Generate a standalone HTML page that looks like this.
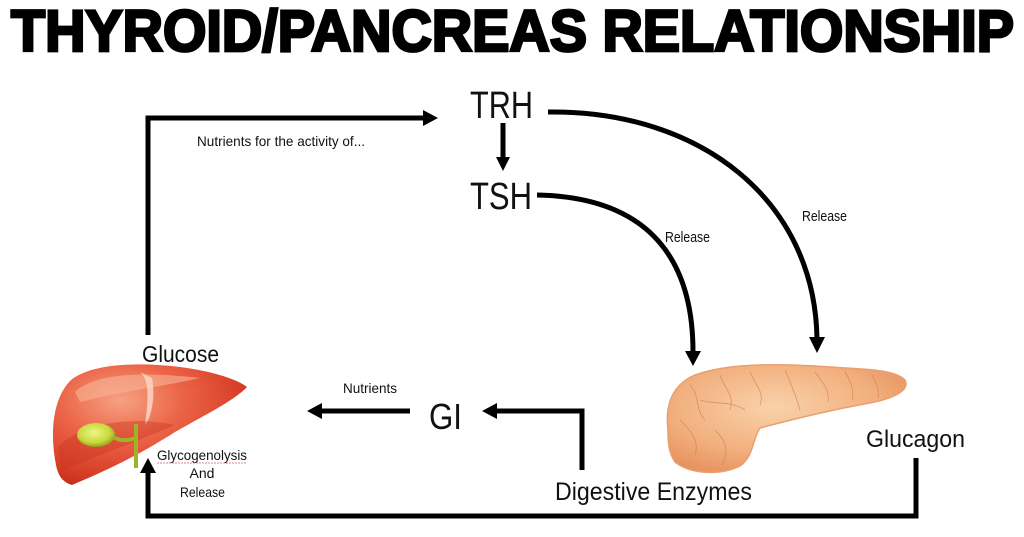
<!DOCTYPE html>
<html><head><meta charset="utf-8"><style>
html,body{margin:0;padding:0;background:#fff;}
svg{display:block;}
text{font-family:"Liberation Sans",sans-serif;fill:#111;}
</style></head><body>
<svg width="1024" height="537" viewBox="0 0 1024 537" xmlns="http://www.w3.org/2000/svg">
<defs>
<radialGradient id="liv" cx="0.35" cy="0.3" r="0.8">
<stop offset="0" stop-color="#f6a283"/>
<stop offset="0.4" stop-color="#ec6447"/>
<stop offset="0.8" stop-color="#d63c25"/>
<stop offset="1" stop-color="#b8281a"/>
</radialGradient>
<radialGradient id="gb" cx="0.45" cy="0.4" r="0.6">
<stop offset="0" stop-color="#eef58a"/>
<stop offset="0.7" stop-color="#c9d83a"/>
<stop offset="1" stop-color="#8fa21c"/>
</radialGradient>
<radialGradient id="pan" cx="0.45" cy="0.4" r="0.7">
<stop offset="0" stop-color="#f9d2ab"/>
<stop offset="0.6" stop-color="#f2b07e"/>
<stop offset="1" stop-color="#e48e5a"/>
</radialGradient>
</defs>

<!-- Title -->
<text x="11" y="51" font-size="58" font-weight="bold" textLength="1003" lengthAdjust="spacingAndGlyphs" stroke="#000" stroke-width="2.8" style="fill:#000">THYROID/PANCREAS RELATIONSHIP</text>

<!-- Connectors -->
<g fill="none" stroke="#000" stroke-width="5">
<polyline points="148,335 148,118 425,118"/>
<line x1="503" y1="123" x2="503" y2="158"/>
<path d="M548,112 C700,110 815,200 817,339"/>
<path d="M537,195 C640,197 693,250 693,352"/>
<polyline points="916,458 916,516 148,516 148,472"/>
<line x1="410" y1="411" x2="320" y2="411"/>
<polyline points="582,470 582,411 495,411"/>
</g>
<g fill="#000">
<polygon points="423,110 438,118 423,126"/>
<polygon points="496,157 510,157 503,171"/>
<polygon points="809,337 825,337 817,353"/>
<polygon points="685,351 701,351 693,366"/>
<polygon points="140,473 156,473 148,458"/>
<polygon points="322,403 322,419 307,411"/>
<polygon points="497,403 497,419 482,411"/>
</g>

<!-- Liver -->
<path d="M56,465 C50,435 52,400 70,381 C90,363 140,362 180,367 C210,371 235,378 247,387 C235,400 205,415 175,432 C150,448 120,465 72,485 C62,482 58,475 56,465 Z" fill="url(#liv)"/>
<path d="M75,392 C95,372 150,372 200,378 C170,385 120,392 80,402 Z" fill="#f8b496" opacity="0.6"/>
<path d="M140,372 C150,380 148,400 145,425 C150,420 156,400 152,378 Z" fill="#f8d2c0" opacity="0.9"/>
<path d="M58,448 C75,425 130,415 175,425 C140,440 100,455 62,470 Z" fill="#c73420" opacity="0.4"/>
<ellipse cx="96" cy="435" rx="19" ry="12" fill="url(#gb)"/>
<path d="M113,437 C120,441 128,441 136,438" stroke="#9fb22a" stroke-width="4" fill="none"/>
<path d="M136,424 L136,468" stroke="#9fb22a" stroke-width="4" fill="none"/>

<!-- Pancreas -->
<path d="M668,430 C665,405 672,385 695,375 C730,362 790,364 830,367 C860,369 895,369 905,380 C910,390 895,398 870,403 C830,410 790,420 760,428 C752,440 754,456 740,466 C720,476 690,474 675,462 C668,452 668,440 668,430 Z" fill="url(#pan)" stroke="#e9a070" stroke-width="1.5"/>
<g fill="none" stroke="#cf7e4c" stroke-width="0.8" opacity="0.7">
<path d="M690,385 C700,395 695,410 705,420"/>
<path d="M720,375 C725,390 735,395 730,410"/>
<path d="M750,372 C755,385 765,392 760,405"/>
<path d="M785,370 C790,382 795,392 800,410"/>
<path d="M815,372 C820,380 830,388 828,402"/>
<path d="M845,372 C850,380 855,390 852,400"/>
<path d="M872,375 C876,383 880,390 878,398"/>
<path d="M680,420 C690,430 700,440 695,455"/>
<path d="M715,430 C725,440 730,450 722,465"/>
<path d="M700,400 C715,405 730,400 745,410"/>
</g>

<!-- Labels -->
<text x="470" y="118" font-size="38" textLength="63" lengthAdjust="spacingAndGlyphs">TRH</text>
<text x="470" y="209" font-size="38" textLength="62" lengthAdjust="spacingAndGlyphs">TSH</text>
<text x="197" y="146" font-size="14" textLength="168" lengthAdjust="spacingAndGlyphs">Nutrients for the activity of...</text>
<text x="665" y="242" font-size="15" textLength="45" lengthAdjust="spacingAndGlyphs">Release</text>
<text x="802" y="221" font-size="15" textLength="45" lengthAdjust="spacingAndGlyphs">Release</text>
<text x="142" y="362" font-size="23" textLength="77" lengthAdjust="spacingAndGlyphs">Glucose</text>
<text x="343" y="393" font-size="14" textLength="54" lengthAdjust="spacingAndGlyphs">Nutrients</text>
<text x="429" y="429" font-size="36" textLength="33" lengthAdjust="spacingAndGlyphs">GI</text>
<text x="555" y="500" font-size="25" textLength="197" lengthAdjust="spacingAndGlyphs">Digestive Enzymes</text>
<text x="866" y="447" font-size="24" textLength="99" lengthAdjust="spacingAndGlyphs">Glucagon</text>
<text x="157" y="460" font-size="14" textLength="90" lengthAdjust="spacingAndGlyphs">Glycogenolysis</text>
<path d="M157,463 L247,463" stroke="#d88" stroke-width="1" stroke-dasharray="2,1"/>
<text x="202" y="478" font-size="14" text-anchor="middle">And</text>
<text x="180" y="497" font-size="14" textLength="45" lengthAdjust="spacingAndGlyphs">Release</text>
</svg>
</body></html>
